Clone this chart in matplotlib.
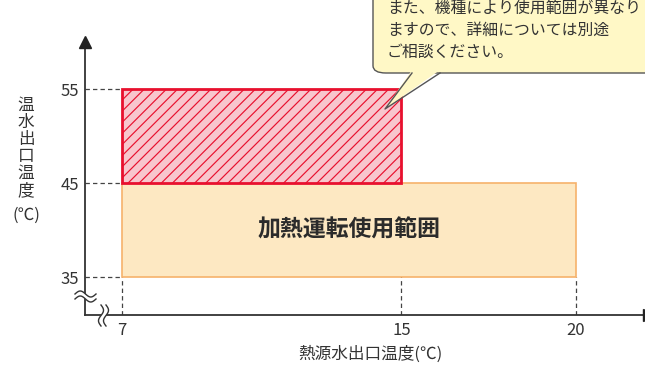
import matplotlib
matplotlib.use("Agg")
import matplotlib.pyplot as plt
import numpy as np
from matplotlib.patches import Rectangle, FancyBboxPatch, Polygon

plt.rcParams['font.family'] = ['Noto Sans CJK JP', 'DejaVu Sans']
plt.rcParams['hatch.linewidth'] = 0.85

# data
x_ticks = [7, 15, 20]
y_ticks = [35, 45, 55]
heat_range = (7, 20, 35, 45)      # x0, x1, y0, y1
ext_range = (7, 15, 45, 55)
range_label = "加熱運転使用範囲"
note_lines = ["また、機種により使用範囲が異なり", "ますので、詳細については別途", "ご相談ください。"]
xlabel = "熱源水出口温度(℃)"
ylabel_chars = "温水出口温度"

W, H = 645, 365
fig = plt.figure(figsize=(W/100, H/100), dpi=100)

def fx(x): return x / W
def fy(y): return 1 - y / H

ax_l, ax_r, ax_b, ax_t = 85, 645, 315, 42
ax = fig.add_axes([fx(ax_l), fy(ax_b), (ax_r-ax_l)/W, (ax_b-ax_t)/H])
ppx = (576 - 122) / 13.0
ppy = (277 - 89) / 20.0
ax.set_xlim(7 - (122-ax_l)/ppx, 7 + (ax_r-122)/ppx)
ax.set_ylim(35 - (ax_b-277)/ppy, 55 + (89-ax_t)/ppy)
for s in ['top', 'right']:
    ax.spines[s].set_visible(False)
for s in ['left', 'bottom']:
    ax.spines[s].set_color('#333333')
    ax.spines[s].set_linewidth(1.3)
ax.patch.set_alpha(0)

ax.set_xticks(x_ticks)
ax.set_xticklabels([str(v) for v in x_ticks], fontsize=12, color='#333333')
ax.set_yticks(y_ticks)
ax.set_yticklabels([str(v) for v in y_ticks], fontsize=12, color='#333333')
ax.tick_params(axis='both', length=0)
ax.tick_params(axis='x', pad=5)
ax.tick_params(axis='y', pad=4)

dash = dict(color='#444444', lw=0.9, ls=(0, (3.5, 2.5)), zorder=1)
xmin, xmax = ax.get_xlim()
ymin, ymax = ax.get_ylim()
for yv in y_ticks:
    ax.plot([xmin, 7], [yv, yv], **dash)
ax.plot([7, 7], [ymin, 35], **dash)
ax.plot([15, 15], [ymin, 45], **dash)
ax.plot([20, 20], [ymin, 35], **dash)

x0, x1, y0, y1 = heat_range
ax.add_patch(Rectangle((x0, y0), x1-x0, y1-y0, facecolor='#FDE8C2', edgecolor='#F6B26B', lw=1.2, zorder=2))
ax.text((x0+x1)/2, (y0+y1)/2, range_label, fontsize=16.5, fontweight='bold', color='#2b2b2b',
        ha='center', va='center', zorder=4)

x0, x1, y0, y1 = ext_range
ax.add_patch(Rectangle((x0, y0), x1-x0, y1-y0, facecolor='#F8C6CD', edgecolor='none', zorder=3))
ax.add_patch(Rectangle((x0, y0), x1-x0, y1-y0, facecolor='none', edgecolor='#E8102E', hatch='///', lw=0, zorder=3))
ax.add_patch(Rectangle((x0, y0), x1-x0, y1-y0, facecolor='none', edgecolor='#E8102E', lw=2, zorder=3))

# arrows
ax.plot([xmin], [ymax], marker='^', markersize=9, color='#222222', clip_on=False, zorder=6)
ax.plot([xmax + 4/ppx], [ymin], marker='>', markersize=9, color='#222222', clip_on=False, zorder=6)

# break marks (pixel coords)
def wave_h(yc, xa, xb, amp):
    xs = np.linspace(xa, xb, 40)
    ys = yc - amp*np.sin((xs - xa)/(xb - xa)*2*np.pi)
    return xs, ys
def wave_v(xc, ya, yb, amp):
    ys = np.linspace(ya, yb, 40)
    xs = xc + amp*np.sin((ys - ya)/(yb - ya)*2*np.pi)
    return xs, ys

xa_, ya1 = wave_h(294, 75, 96, 3)
_, ya2 = wave_h(299, 75, 96, 3)
fig.add_artist(Polygon(np.column_stack([fx(np.r_[xa_, xa_[::-1]]), fy(np.r_[ya1, ya2[::-1]])]),
                       closed=True, facecolor='white', edgecolor='none', transform=fig.transFigure, zorder=7))
for yy in (ya1, ya2):
    fig.add_artist(plt.Line2D(fx(xa_), fy(yy), color='#333333', lw=1, transform=fig.transFigure, zorder=8))

xv1, yv_ = wave_v(101, 305, 326, 2.5)
xv2, _ = wave_v(106, 305, 326, 2.5)
fig.add_artist(Polygon(np.column_stack([fx(np.r_[xv1, xv2[::-1]]), fy(np.r_[yv_, yv_[::-1]])]),
                       closed=True, facecolor='white', edgecolor='none', transform=fig.transFigure, zorder=7))
for xx in (xv1, xv2):
    fig.add_artist(plt.Line2D(fx(xx), fy(yv_), color='#333333', lw=1, transform=fig.transFigure, zorder=8))

# labels
fig.text(fx(370), fy(354), xlabel, fontsize=12, color='#333333', ha='center', va='center')
fig.text(fx(26), fy(148), "\n".join(ylabel_chars), fontsize=12, color='#333333', ha='center', va='center',
         linespacing=1.0)
fig.text(fx(26), fy(215), "(℃)", fontsize=12, color='#333333', ha='center', va='center')

# callout
fill_c, edge_c = '#FFF8C6', '#555555'
box = FancyBboxPatch((fx(373), fy(73)), fx(700-373), fy(-20) - fy(73),
                     boxstyle="round,pad=0,rounding_size=0.02", transform=fig.transFigure,
                     facecolor=fill_c, edgecolor=edge_c, lw=1, zorder=9)
fig.add_artist(box)
tail = np.array([[412, 70], [440, 70], [385, 109]])
fig.add_artist(Polygon(np.column_stack([fx(tail[:, 0]), fy(tail[:, 1])]), closed=True,
                       facecolor=fill_c, edgecolor='none', transform=fig.transFigure, zorder=10))
fig.add_artist(plt.Line2D(fx(np.array([412, 385, 440])), fy(np.array([73, 109, 73])), color=edge_c, lw=1,
                          transform=fig.transFigure, zorder=11))
for i, line in enumerate(note_lines):
    fig.text(fx(387), fy(8 + 22*i), line, fontsize=11.4, color='#333333', ha='left', va='center', zorder=12)

fig.savefig("out.png", dpi=100)
